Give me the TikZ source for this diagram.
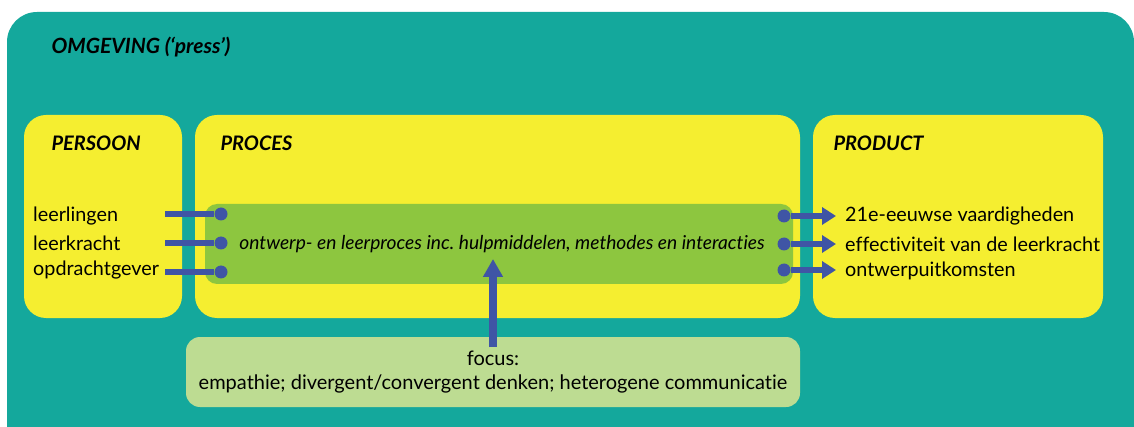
\documentclass[tikz,border=0pt]{standalone}
\usepackage{fontspec}
\setmainfont{Lato}[Ligatures={NoCommon}]
\usetikzlibrary{arrows.meta}
\definecolor{teal1}{HTML}{14A89C}
\definecolor{yel}{HTML}{F5EE30}
\definecolor{grn}{HTML}{8DC63F}
\definecolor{lgrn}{HTML}{BDDC92}
\definecolor{blu}{HTML}{3F55A5}
\frenchspacing
\begin{document}
\begin{tikzpicture}[x=1pt,y=-1pt,
  ybox/.style={fill=yel,rounded corners=22pt},
  title/.style={font=\fontsize{20}{22}\selectfont\bfseries\itshape,anchor=west},
  body/.style={font=\fontsize{19.8}{22}\selectfont,anchor=west,inner sep=0pt},
  conn/.style={draw=blu,line width=5.5pt},
  dot/.style={circle,fill=blu,inner sep=0pt,minimum size=13pt},
  arr/.style={conn,-{Triangle[length=14pt,width=17pt]}}]
\useasboundingbox (0,0) rectangle (1134,427);
\begin{scope}
\clip (0,0) rectangle (1134,427);
\fill[teal1,rounded corners=30pt] (7,12) rectangle (1134,460);
\end{scope}
\node[title,font=\fontsize{21}{23}\selectfont\bfseries\itshape] (omg) at (48,47) {OMGEVING (‘press’)};
% yellow boxes
\fill[ybox] (24,115) rectangle (182,318);
\fill[ybox] (195,115) rectangle (800,318);
\fill[ybox] (813,115) rectangle (1103,318);
\node[title] (pers) at (48,143) {PERSOON};
\node[title] (proc) at (217,143) {PROCES};
\node[title] (prod) at (830,143) {PRODUCT};
% green process box
\node[fill=grn,rounded corners=12pt,minimum width=588pt,minimum height=80pt,inner sep=0pt] (mid) at (499,244) {};
\node[font=\fontsize{19.2}{21}\selectfont\itshape,inner sep=0pt] (midt) at (502,244)
  {ontwerp- en leerproces inc.\ hulpmiddelen, methodes en interacties};
% focus box
\node[fill=lgrn,rounded corners=14pt,minimum width=614pt,minimum height=70pt,inner sep=0pt,
  align=center,font=\fontsize{20}{24}\selectfont] (foc) at (493,372)
  {focus:\\empathie; divergent/convergent denken; heterogene communicatie};
% persoon texts
\node[body] (l1) at (33,216) {leerlingen};
\node[body] (l2) at (33,243) {leerkracht};
\node[body] (l3) at (33,270) {opdrachtgever};
\node[dot] (d1) at (221,214) {};
\node[dot] (d2) at (221,243) {};
\node[dot] (d3) at (221,272) {};
\coordinate (s1) at (165,214);
\coordinate (s2) at (165,243);
\coordinate (s3) at (165,272);
\draw[conn] (s1) -- (d1);
\draw[conn] (s2) -- (d2);
\draw[conn] (s3) -- (d3);
% product texts
\node[body] (p1) at (845,216) {21e-eeuwse vaardigheden};
\node[body] (p2) at (845,244) {effectiviteit van de leerkracht};
\node[body] (p3) at (845,271) {ontwerpuitkomsten};
\node[dot] (e1) at (784,216) {};
\node[dot] (e2) at (784,244) {};
\node[dot] (e3) at (784,270) {};
\coordinate (t1) at (836,216);
\coordinate (t2) at (836,244);
\coordinate (t3) at (836,270);
\draw[arr] (e1) -- (t1);
\draw[arr] (e2) -- (t2);
\draw[arr] (e3) -- (t3);
% vertical arrow
\coordinate (vb) at (493,347);
\coordinate (vt) at (493,259);
\draw[conn,line width=8pt,-{Triangle[length=18pt,width=19pt]}] (vb) -- (vt);
\end{tikzpicture}
\end{document}
